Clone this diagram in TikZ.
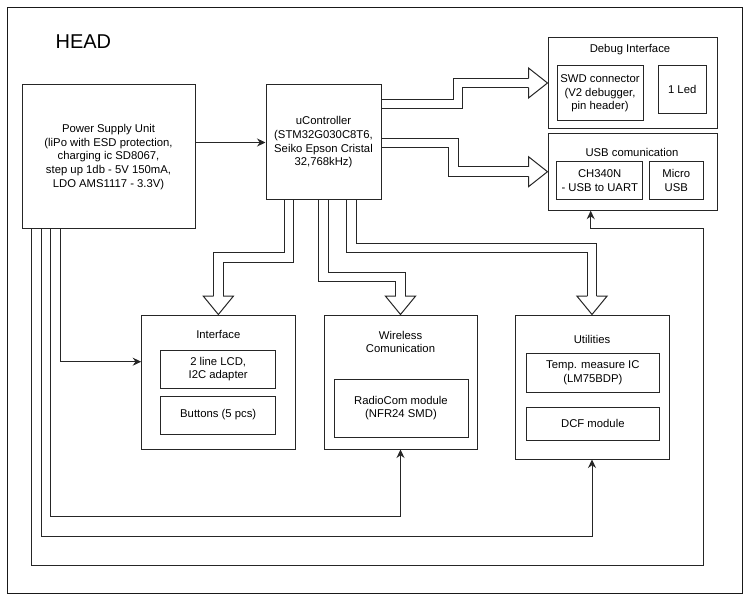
\documentclass[tikz,border=0pt]{standalone}
\usepackage{fontspec}
\setmainfont{Liberation Sans}
\usetikzlibrary{calc,arrows.meta}
\pgfdeclarelayer{paper}
\pgfdeclarelayer{bg}
\pgfsetlayers{paper,bg,main}
\newcommand\boxfont{\fontsize{11.3}{13.7}\selectfont}
\newcommand\mkheadR[1]{\filldraw[fathead] ($(#1)+(-19,-4.7)$) -- ($(#1)+(-19,-15)$) -- (#1) -- ($(#1)+(-19,15)$) -- ($(#1)+(-19,4.7)$);}
\newcommand\mkheadD[1]{\filldraw[fathead] ($(#1)+(-4.7,-18.3)$) -- ($(#1)+(-15,-18.3)$) -- (#1) -- ($(#1)+(15,-18.3)$) -- ($(#1)+(4.7,-18.3)$);}
\begin{document}
\begin{tikzpicture}[x=1pt,y=-1pt,
  box/.style={draw=black!85, line width=1pt, fill=white, inner sep=0pt, align=center, font=\boxfont},
  lbl/.style={inner sep=0pt, align=center, font=\boxfont},
  conn/.style={draw=black!85, line width=1pt, -{Stealth[length=8.5pt,width=8pt,inset=2.8pt]}},
  shaft/.style={draw=black!85, line width=1pt, double=white, double distance=8.4pt, line join=miter},
  fathead/.style={draw=black!85, line width=1pt, fill=white, line join=miter}]
\useasboundingbox (0,0) rectangle (750,604);
\begin{pgfonlayer}{paper}
\fill[white] (0,0) rectangle (750,604);
\end{pgfonlayer}
\draw[black!90, line width=1pt] (7,8) rectangle (742,593);
\node[inner sep=0pt, font=\fontsize{20}{24}\selectfont] (head) at (83.4,42) {HEAD};

% main boxes
\node[box, minimum width=173pt, minimum height=144pt] (psu) at (108.5,157)
  {Power Supply Unit\\(liPo with ESD protection,\\charging ic SD8067,\\step up 1db - 5V 150mA,\\LDO AMS1117 - 3.3V)};
\node[box, minimum width=115pt, minimum height=115pt] (uc) at (323.5,142.5)
  {uController\\(STM32G030C8T6,\\Seiko Epson Cristal\\32,768kHz)};

% debug interface
\node[box, minimum width=169pt, minimum height=91pt] (dbg) at (632.5,83) {};
\node[lbl] (dbgt) at (630,50) {Debug Interface};
\node[box, minimum width=86pt, minimum height=55pt] (swd) at (600,93.3) {SWD connector\\(V2 debugger,\\pin header)};
\node[box, minimum width=47.7pt, minimum height=47.6pt] (led) at (682.2,89.5) {1 Led};

% usb
\node[box, minimum width=169pt, minimum height=77pt] (usb) at (632.5,171.7) {};
\node[lbl] (usbt) at (632,152) {USB comunication};
\node[box, minimum width=86pt, minimum height=38.3pt] (ch) at (599.7,180.8) {CH340N\\- USB to UART};
\node[box, minimum width=54pt, minimum height=38.3pt] (musb) at (676.3,180.8) {Micro\\USB};

% interface
\node[box, minimum width=153.3pt, minimum height=134pt] (iface) at (218.35,382) {};
\node[lbl] (ifacet) at (218.3,334) {Interface};
\node[box, minimum width=115pt, minimum height=38pt] (lcd) at (218.2,369) {2 line LCD,\\I2C adapter};
\node[box, minimum width=115pt, minimum height=38pt] (btn) at (218.2,415) {Buttons (5 pcs)};

% wireless
\node[box, minimum width=153pt, minimum height=134pt] (wire) at (400.5,382) {};
\node[lbl] (wiret) at (400.5,342) {Wireless\\Comunication};
\node[box, minimum width=134pt, minimum height=58pt] (radio) at (401,408) {RadioCom module\\(NFR24 SMD)};

% utilities
\node[box, minimum width=154pt, minimum height=144pt] (util) at (592,387) {};
\node[lbl] (utilt) at (592,339) {Utilities};
\node[box, minimum width=132.3pt, minimum height=39pt] (temp) at (592.85,372.5) {Temp. measure IC\\(LM75BDP)};
\node[box, minimum width=132.3pt, minimum height=33pt] (dcf) at (592.85,423.5) {DCF module};

\begin{pgfonlayer}{bg}
% fat arrows
\draw[shaft] ($(uc.north east)+(0,19.7)$) -| (457.7,83) -- ($(dbg.west)+(-19,0)$);
\mkheadR{dbg.west}
\draw[shaft] ($(uc.east)+(0,0.3)$) -| (453.5,171.7) -- ($(usb.west)+(-19,0)$);
\mkheadR{usb.west}
\coordinate (d1) at ($(uc.south west)+(23.5,0)$);
\draw[shaft] (d1) -- (d1 |- 0,257.7) -| ($(iface.north)+(0,-18.3)$);
\mkheadD{iface.north}
\draw[shaft] (uc.south) -- (uc.south |- 0,277.3) -| ($(wire.north)+(0,-18.3)$);
\mkheadD{wire.north}
\coordinate (d3) at ($(uc.south west)+(86,0)$);
\draw[shaft] (d3) -- (d3 |- 0,248.3) -| ($(util.north)+(0,-18.3)$);
\mkheadD{util.north}

% thin connectors
\draw[conn] (psu.east |- uc.west) -- (uc.west);
\coordinate (p1) at ($(psu.south west)+(38.7,0)$);
\draw[conn] (p1) |- ($(iface.west)+(0,-20.3)$);
\coordinate (p2) at ($(psu.south west)+(29,0)$);
\draw[conn] (p2) -- (p2 |- 0,516.7) -| (wire.south);
\coordinate (p3) at ($(psu.south west)+(19.7,0)$);
\draw[conn] (p3) -- (p3 |- 0,536) -| (util.south);
\coordinate (p4) at ($(psu.south west)+(9.7,0)$);
\draw[conn] (p4) -- (p4 |- 0,565) -- (703.3,565) -- (703.3,228.3) -| ($(usb.south)+(-41.8,0)$);
\end{pgfonlayer}
\end{tikzpicture}
\end{document}
